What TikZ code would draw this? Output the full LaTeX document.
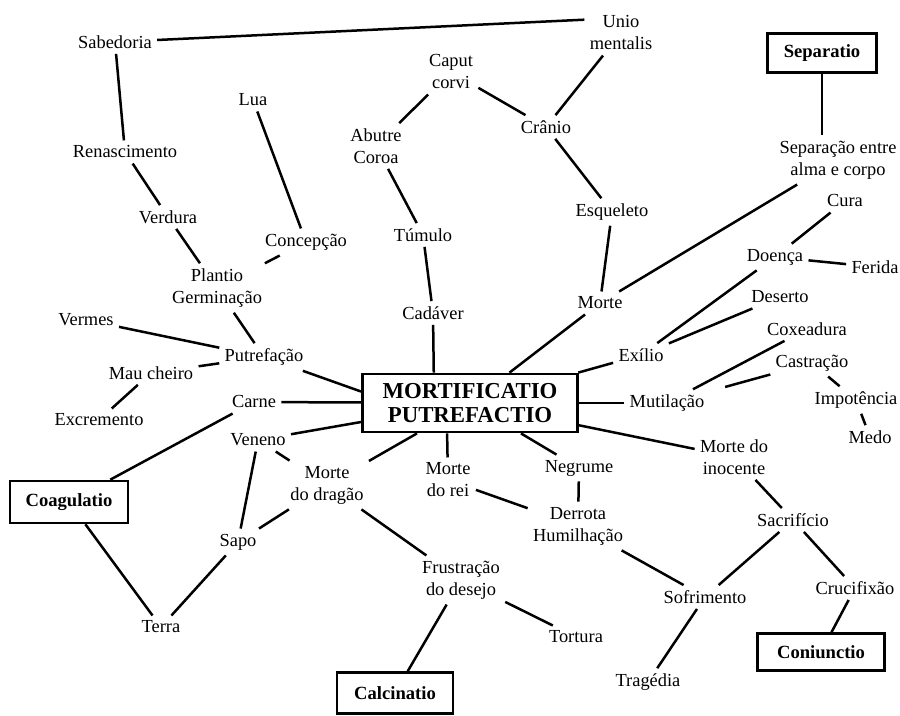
\documentclass[tikz,border=0pt]{standalone}
\usepackage{fontspec}
\setmainfont{Liberation Serif}
\tikzset{
  lbl/.style={font=\fontsize{9.2}{11}\selectfont, align=center, inner sep=2.5pt},
  stage/.style={draw, line width=1.3pt, font=\fontsize{9.3}{11}\selectfont\bfseries, inner sep=0pt, align=center},
  hub/.style={draw, line width=1.4pt, font=\fontsize{11.4}{11.8}\selectfont\bfseries, inner sep=0pt, align=center,
              minimum width=107.5pt, minimum height=29pt},
  conn/.style={line width=1.25pt},
}
\begin{document}
\begin{tikzpicture}[x=0.5pt,y=-0.5pt]
\fill[white] (0,0) rectangle (900,716);
\useasboundingbox (0,0) rectangle (900,716);

% central node
\node[hub] (center) at (470,403) {MORTIFICATIO\\PUTREFACTIO};

% stage boxes
\node[stage, minimum width=54.5pt, minimum height=19.5pt] (separatio) at (822,53) {Separatio};
\node[stage, minimum width=59pt, minimum height=21pt] (coag) at (69,502) {Coagulatio};
\node[stage, minimum width=58pt, minimum height=20.5pt] (calcinatio) at (395,693) {Calcinatio};
\node[stage, minimum width=63.5pt, minimum height=18.5pt] (coniunctio) at (821,652) {Coniunctio};

% labels
\node[lbl] (sab) at (115,42) {Sabedoria};
\node[lbl] (unio) at (621,33) {Unio\\mentalis};
\node[lbl] (caput) at (451,72) {Caput\\corvi};
\node[lbl] (lua) at (253,100) {Lua};
\node[lbl] (abutre) at (376,146) {Abutre\\Coroa};
\node[lbl] (cranio) at (546,127) {Crânio};
\node[lbl] (separacao) at (838,160) {Separação entre\\alma e corpo};
\node[lbl] (renasc) at (125,152) {Renascimento};
\node[lbl] (cura) at (845,201) {Cura};
\node[lbl] (esq) at (612,212) {Esqueleto};
\node[lbl] (verdura) at (168,217) {Verdura};
\node[lbl] (concepcao) at (306,242) {Concepção};
\node[lbl] (tumulo) at (423,235) {Túmulo};
\node[lbl] (doenca) at (775,257) {Doença};
\node[lbl] (ferida) at (875,267) {Ferida};
\node[lbl] (plantio) at (217,288) {Plantio\\Germinação};
\node[lbl] (morte) at (600,303) {Morte};
\node[lbl] (cadaver) at (433,313) {Cadáver};
\node[lbl] (deserto) at (780,297) {Deserto};
\node[lbl] (vermes) at (86,320) {Vermes};
\node[lbl] (putref) at (264,357) {Putrefação};
\node[lbl] (exilio) at (641,355) {Exílio};
\node[lbl] (coxeadura) at (807,329) {Coxeadura};
\node[lbl] (castracao) at (812,363) {Castração};
\node[lbl] (maucheiro) at (151,373) {Mau cheiro};
\node[lbl] (carne) at (254,402) {Carne};
\node[lbl] (excremento) at (99,420) {Excremento};
\node[lbl] (mutilacao) at (667,403) {Mutilação};
\node[lbl] (impotencia) at (856,400) {Impotência};
\node[lbl] (veneno) at (258,440) {Veneno};
\node[lbl] (medo) at (870,437) {Medo};
\node[lbl] (inocente) at (734,457) {Morte do\\inocente};
\node[lbl] (rei) at (448,480) {Morte\\do rei};
\node[lbl] (dragao) at (327,485) {Morte\\do dragão};
\node[lbl] (negrume) at (579,468) {Negrume};
\node[lbl] (derrota) at (578,526) {Derrota\\Humilhação};
\node[lbl] (sacrificio) at (793,520) {Sacrifício};
\node[lbl] (sapo) at (238,542) {Sapo};
\node[lbl] (frustracao) at (461,580) {Frustração\\do desejo};
\node[lbl] (sofrimento) at (705,597) {Sofrimento};
\node[lbl] (crucifixao) at (855,588) {Crucifixão};
\node[lbl] (terra) at (161,627) {Terra};
\node[lbl] (tortura) at (576,637) {Tortura};
\node[lbl] (tragedia) at (648,682) {Tragédia};

% connectors
\begin{scope}[conn]
\draw (sab) -- (unio.160);
\draw (sab) -- (renasc);
\draw (renasc) -- (verdura);
\draw (verdura) -- (plantio);
\draw (lua) -- (concepcao);
\draw (concepcao) -- (plantio);
\draw (plantio) -- (putref);
\draw (vermes) -- (putref);
\draw (maucheiro) -- (putref);
\draw (maucheiro) -- (excremento);
\draw (putref) -- (center.174);
\draw (carne) -- (center);
\draw (carne) -- (coag);
\draw (veneno) -- (center);
\draw (veneno) -- (dragao);
\draw (veneno) -- (sapo);
\draw (dragao) -- (center);
\draw (dragao) -- (sapo);
\draw (dragao) -- (frustracao);
\draw (sapo) -- (terra);
\draw (coag) -- (terra);
\draw (frustracao) -- (calcinatio);
\draw (frustracao) -- (tortura);
\draw (rei) -- (center.233);
\draw (rei) -- (derrota);
\draw (negrume) -- (center);
\draw (negrume) -- (derrota);
\draw (derrota) -- (sofrimento);
\draw (sofrimento) -- (tragedia);
\draw (sofrimento) -- (sacrificio);
\draw (inocente) -- (center);
\draw (inocente) -- (sacrificio);
\draw (sacrificio) -- (crucifixao);
\draw (crucifixao) -- (coniunctio);
\draw (mutilacao) -- (center);
\draw (mutilacao) -- (coxeadura);
\draw[shorten <=8pt] (mutilacao) -- (castracao);
\draw (castracao) -- (impotencia);
\draw (impotencia) -- (medo);
\draw (exilio) -- (center);
\draw (exilio) -- (deserto);
\draw (exilio) -- (doenca);
\draw (doenca) -- (cura);
\draw (doenca) -- (ferida);
\draw (morte) -- (center);
\draw (morte) -- (esq);
\draw (morte) -- (separacao);
\draw (separatio.south) -- (separatio.south |- separacao.north);
\draw (esq) -- (cranio);
\draw (cranio) -- (caput);
\draw (cranio) -- (unio);
\draw (caput) -- (abutre);
\draw (abutre) -- (tumulo);
\draw (tumulo) -- (cadaver);
\draw (cadaver) -- (center.140);
\end{scope}
\end{tikzpicture}
\end{document}
